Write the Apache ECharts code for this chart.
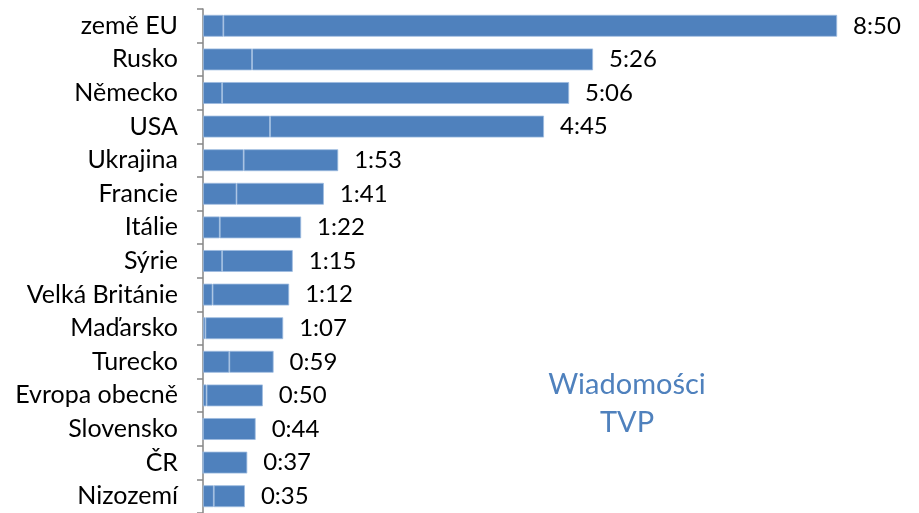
<!DOCTYPE html>
<html>
<head>
<meta charset="utf-8">
<script src="https://cdn.jsdelivr.net/npm/echarts@6/dist/echarts.min.js"></script>
<style>
html, body { margin: 0; padding: 0; background: #fff; }
#chart { width: 919px; height: 513px; }
</style>
</head>
<body>
<div id="chart"></div>
<script>
// airtime per country (mm:ss), top to bottom
var countries = ["země EU", "Rusko", "Německo", "USA", "Ukrajina", "Francie", "Itálie", "Sýrie",
    "Velká Británie", "Maďarsko", "Turecko", "Evropa obecně", "Slovensko", "ČR", "Nizozemí"];
var timeLabels = ["8:50", "5:26", "5:06", "4:45", "1:53", "1:41", "1:22", "1:15",
    "1:12", "1:07", "0:59", "0:50", "0:44", "0:37", "0:35"];
// first (inner) segment of each bar, seconds
var firstPart = [17, 41, 16, 56, 34, 28, 14, 16, 8, 2, 22, 3, 0, 0, 9];

function toSeconds(s) {
    var p = s.split(":");
    return +p[0] * 60 + +p[1];
}
var totals = timeLabels.map(toSeconds);
var secondPart = totals.map(function(t, i) { return t - firstPart[i] });

var blue = "#4f81bd";
var fontName = "Lato, 'Open Sans', sans-serif";

var chart = echarts.init(document.getElementById("chart"));
var option = {
    animation: false,
    grid: { left: 203, right: 46, top: 9, bottom: 0, containLabel: false },
    xAxis: {
        type: "value",
        min: 0,
        max: 560,
        show: false
    },
    yAxis: {
        type: "category",
        inverse: true,
        data: countries,
        axisLine: { show: true, lineStyle: { color: "#868686", width: 1.5 } },
        axisTick: { show: true, length: 6, lineStyle: { color: "#868686", width: 1.5 } },
        axisLabel: {
            interval: 0,
            hideOverlap: false,
            color: "#000",
            fontSize: 25,
            fontFamily: fontName,
            margin: 25
        }
    },
    series: [{
        type: "bar",
        stack: "t",
        data: firstPart,
        barCategoryGap: "35%",
        itemStyle: { color: blue, borderColor: "#9dbbe0", borderWidth: 0.8 }
    }, {
        type: "bar",
        stack: "t",
        data: secondPart,
        barCategoryGap: "35%",
        itemStyle: { color: blue, borderColor: "#9dbbe0", borderWidth: 0.8 },
        label: {
            show: true,
            position: "right",
            distance: 16,
            color: "#000",
            fontSize: 24,
            fontFamily: fontName,
            formatter: function(p) { return timeLabels[p.dataIndex] }
        }
    }],
    graphic: [{
        type: "text",
        x: 627,
        y: 366,
        style: {
            text: "Wiadomości\nTVP",
            textAlign: "center",
            fill: blue,
            font: "29px " + fontName,
            lineHeight: 38
        }
    }]
};
chart.setOption(option);
</script>
</body>
</html>
